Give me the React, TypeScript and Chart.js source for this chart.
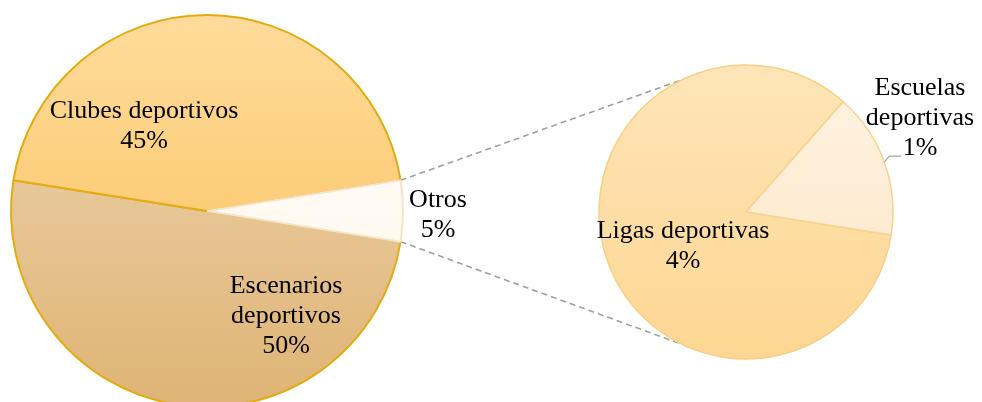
import React, { useEffect, useRef } from "react";
import { Chart, registerables } from "chart.js";

Chart.register(...registerables);

// ---- data ----
const mainCategories = ["Escenarios\ndeportivos", "Clubes deportivos", "Otros"];
const mainValues = [50, 45, 5];
const detailCategories = ["Ligas deportivas", "Escuelas\ndeportivas"];
const detailValues = [4.2, 0.8];

// ---- styles ----
const FONT = '26px "Liberation Serif", "Times New Roman", serif';
const LINE_H = 30;
const W = 982;
const H = 422;
const mainGradients = [
  ["#EED6B3", "#DFB475"],
  ["#FFDB9B", "#F9BF55"],
  ["#FFFCF8", "#FFF7EC"],
];
const mainBorders = ["#E3AB12", "#E3AB12", "#F6E4CA"];
const detailGradients = [
  ["#FFE5B8", "#FDD692"],
  ["#FFF4E4", "#FDE4C2"],
];
const detailBorders = ["#F8CF85", "#F8D290"];
const mainLabelOffsets = [
  [79, 82],
  [-63, -93],
  [231, -4],
];
const detailLabelOffsets = [
  [-63, 26],
  [174, -117],
];
const CONNECT_ANGLE = 116; // degrees on the secondary pie

function splitLines(names: string[], values: number[], total: number) {
  return names.map((n, i) => [...n.split("\n"), `${Math.round((values[i] / total) * 100)}%`]);
}

function gradientFill(stops: string[][]) {
  return (ctx: any) => {
    const chart = ctx.chart;
    const area = chart.chartArea;
    const i = ctx.dataIndex ?? 0;
    const s = stops[i] || stops[0];
    if (!area) return s[0];
    const g = chart.ctx.createLinearGradient(0, area.top, 0, area.bottom);
    g.addColorStop(0, s[0]);
    g.addColorStop(1, s[1]);
    return g;
  };
}

function labelPlugin(lines: string[][], offsets: number[][], leaderIndex: number | null) {
  return {
    id: "sliceLabels",
    afterDatasetsDraw(chart: any) {
      const meta = chart.getDatasetMeta(0);
      const c = chart.ctx;
      c.save();
      c.font = FONT;
      c.fillStyle = "#000000";
      c.textAlign = "center";
      c.textBaseline = "alphabetic";
      meta.data.forEach((arc: any, i: number) => {
        const p = arc.getProps(["x", "y", "startAngle", "endAngle", "outerRadius"], true);
        const [dx, dy] = offsets[i];
        lines[i].forEach((t, k) => c.fillText(t, p.x + dx, p.y + dy + k * LINE_H));
        if (leaderIndex === i) {
          const mid = (p.startAngle + p.endAngle) / 2;
          const sx = p.x + p.outerRadius * Math.cos(mid);
          const sy = p.y + p.outerRadius * Math.sin(mid);
          c.strokeStyle = "#A6A6A6";
          c.lineWidth = 1.2;
          c.beginPath();
          c.moveTo(sx, sy);
          c.lineTo(sx + 5, sy - 6);
          c.lineTo(sx + 17, sy - 6);
          c.stroke();
        }
      });
      c.restore();
    },
  };
}

function connectorPlugin(getMain: () => any, mainIndex: number) {
  return {
    id: "connectors",
    beforeDatasetsDraw(chart: any) {
      const main = getMain();
      if (!main) return;
      const src = main.getDatasetMeta(0).data[mainIndex];
      const dst = chart.getDatasetMeta(0).data[0];
      if (!src || !dst) return;
      const a = src.getProps(["x", "y", "startAngle", "endAngle", "outerRadius"], true);
      const b = dst.getProps(["x", "y", "outerRadius"], true);
      const ang = (CONNECT_ANGLE * Math.PI) / 180;
      const c = chart.ctx;
      c.save();
      c.strokeStyle = "#A0A0A0";
      c.lineWidth = 1.6;
      c.setLineDash([6, 4]);
      const pts = [
        [a.startAngle, -ang],
        [a.endAngle, ang],
      ];
      pts.forEach(([sa, da]) => {
        c.beginPath();
        c.moveTo(a.x + a.outerRadius * Math.cos(sa), a.y + a.outerRadius * Math.sin(sa));
        c.lineTo(b.x + b.outerRadius * Math.cos(da), b.y + b.outerRadius * Math.sin(da));
        c.stroke();
      });
      c.restore();
    },
  };
}

export default function App() {
  const mainRef = useRef<HTMLCanvasElement>(null);
  const detailRef = useRef<HTMLCanvasElement>(null);

  useEffect(() => {
    document.body.style.margin = "0";
    const mainTotal = mainValues.reduce((s, v) => s + v, 0);
    const mainChart = new Chart(mainRef.current as HTMLCanvasElement, {
      type: "pie",
      data: {
        labels: mainCategories,
        datasets: [
          {
            data: mainValues,
            backgroundColor: gradientFill(mainGradients) as any,
            borderColor: mainBorders,
            borderWidth: 2,
          },
        ],
      },
      options: {
        animation: false,
        responsive: false,
        devicePixelRatio: 1,
        rotation: 99,
        radius: 196,
        events: [],
        layout: { padding: { left: 11, right: 579, top: 15, bottom: 15 } },
        plugins: { legend: { display: false }, tooltip: { enabled: false } },
      } as any,
      plugins: [labelPlugin(splitLines(mainCategories, mainValues, mainTotal), mainLabelOffsets, null)],
    });

    const detailChart = new Chart(detailRef.current as HTMLCanvasElement, {
      type: "pie",
      data: {
        labels: detailCategories,
        datasets: [
          {
            data: detailValues,
            backgroundColor: gradientFill(detailGradients) as any,
            borderColor: detailBorders,
            borderWidth: 1.5,
          },
        ],
      },
      options: {
        animation: false,
        responsive: false,
        devicePixelRatio: 1,
        rotation: 99,
        radius: 147,
        events: [],
        layout: { padding: { left: 599, right: 89, top: 65, bottom: 63 } },
        plugins: { legend: { display: false }, tooltip: { enabled: false } },
      } as any,
      plugins: [
        connectorPlugin(() => mainChart, 2),
        labelPlugin(splitLines(detailCategories, detailValues, mainTotal), detailLabelOffsets, 1),
      ],
    });

    return () => {
      detailChart.destroy();
      mainChart.destroy();
    };
  }, []);

  const canvasStyle: React.CSSProperties = { position: "absolute", left: 0, top: 0, width: W, height: H };
  return (
    <div
      style={{
        position: "fixed",
        left: 0,
        top: 0,
        width: W,
        height: 402,
        overflow: "hidden",
        background: "#ffffff",
      }}
    >
      <canvas ref={detailRef} width={W} height={H} style={canvasStyle} />
      <canvas ref={mainRef} width={W} height={H} style={canvasStyle} />
    </div>
  );
}
